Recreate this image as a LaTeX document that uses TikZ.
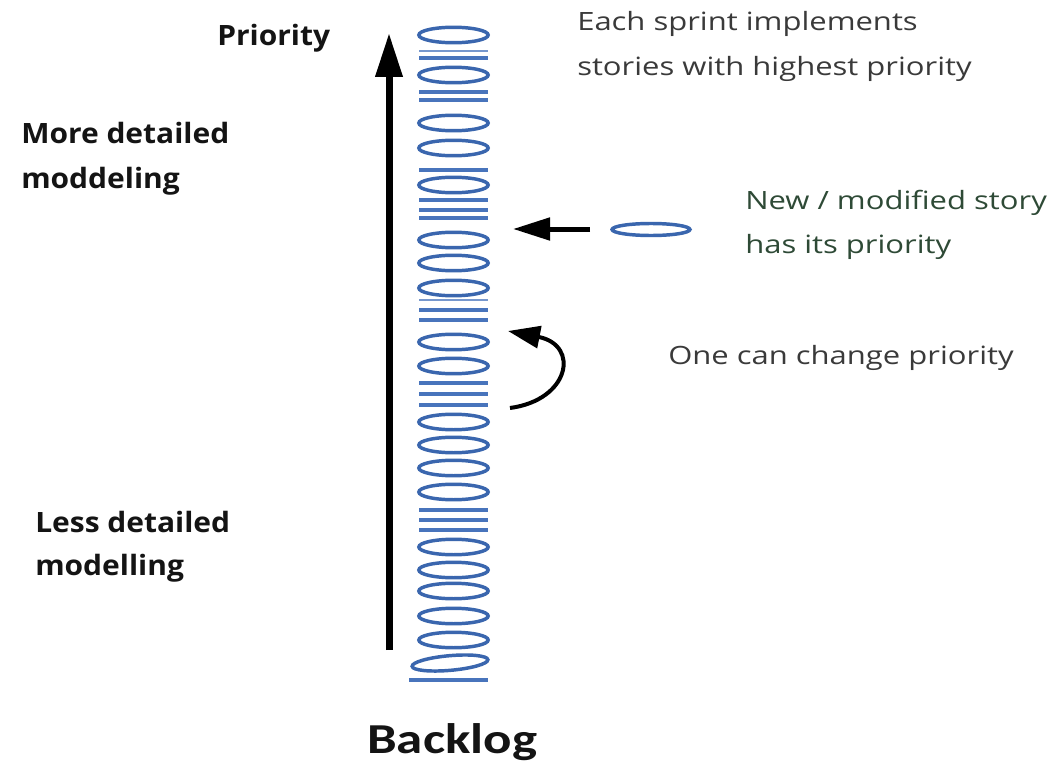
\documentclass[tikz,border=0pt]{standalone}
\usepackage{fontspec}
\usetikzlibrary{arrows.meta}

% Fonts: notes, bold side labels, title
\newfontfamily\notefont[FakeStretch=1.23]{Open Sans}
\newfontfamily\labelfont[FakeStretch=1.07]{Open Sans}
\newfontfamily\titlefont[FakeStretch=1.24]{Carlito}

\definecolor{storyblue}{HTML}{3A66AE}
\definecolor{barblue}{HTML}{4874BC}
\definecolor{notegray}{HTML}{3A3A3A}
\definecolor{newgreen}{HTML}{2E4A36}
\definecolor{labelblack}{HTML}{141414}

\tikzset{
  story/.style={draw=storyblue, line width=2.6pt},
  storybar/.style={draw=barblue, line width=3.4pt},
  note/.style={font=\notefont\fontsize{18.9}{22}\selectfont, text=notegray, inner sep=0pt, anchor=base west},
  sidelabel/.style={font=\labelfont\bfseries\fontsize{21}{25}\selectfont, text=labelblack, inner sep=0pt, anchor=base west},
  titlelabel/.style={font=\titlefont\bfseries\fontsize{32}{36}\selectfont, text=labelblack, inner sep=0pt, anchor=base west},
  bigarrow/.style={line width=5.25pt, -{Triangle[length=33pt,width=19.5pt]}},
  insertarrow/.style={line width=3.75pt, -{Triangle[length=27.75pt,width=16.5pt]}},
  movearrow/.style={line width=3pt, -{Triangle[length=24pt,width=16.5pt]}}
}

\begin{document}
\begin{tikzpicture}[x=0.75pt,y=-0.75pt]
\useasboundingbox[fill=white] (0,0) rectangle (1057,767);

% Backlog column: stories (ellipses) and collapsed stories (bars)
\foreach \yy in {35,75,123,148,185,240,263,288,342,366,422,445,468,492,547,570,591,616,640}
  \draw[story] (453.5,\yy) ellipse [x radius=26pt, y radius=5.8pt];
\draw[story, rotate around={5:(450,663)}] (450,663) ellipse [x radius=28.5pt, y radius=5.5pt];
\foreach \yy in {58,92,100,170,200,210,218,310,320,383,394,405,510,520,530}
  \draw[storybar] (419,\yy) -- (488,\yy);
\foreach \yy in {51,300}
  \draw[storybar, line width=2.2pt, draw=barblue!75] (419,\yy) -- (488,\yy);
\draw[storybar] (409,680) -- (488,680);

% Priority axis
\coordinate (axisbot) at (389,650);
\coordinate (axistop) at (389,33);
\draw[bigarrow] (axisbot) -- (axistop);

% New story being inserted
\draw[story] (651,229.5) ellipse [x radius=29.2pt, y radius=4.5pt];
\coordinate (insfrom) at (590,229);
\coordinate (insto) at (513,229);
\draw[insertarrow] (insfrom) -- (insto);

% Re-prioritising arrow
\coordinate (movefrom) at (510,408);
\coordinate (moveto) at (508,331);
\draw[movearrow] (movefrom) .. controls (570,400) and (580,345) .. (moveto);

% Labels
\node[sidelabel] (prio) at (217,46) {Priority};
\node[sidelabel] (more1) at (21,143) {More detailed};
\node[sidelabel] (more2) at (21,188) {moddeling};
\node[sidelabel] (less1) at (35,532) {Less detailed};
\node[sidelabel] (less2) at (35,575) {modelling};

\node[note] (each1) at (577,31) {Each sprint implements};
\node[note] (each2) at (577,76) {stories with highest priority};
\node[note, text=newgreen] (new1) at (745,209) {New / modified story};
\node[note, text=newgreen] (new2) at (745,253) {has its priority};
\node[note] (change) at (668,364) {One can change priority};

\node[titlelabel] (backlog) at (367,753) {Backlog};
\end{tikzpicture}
\end{document}
